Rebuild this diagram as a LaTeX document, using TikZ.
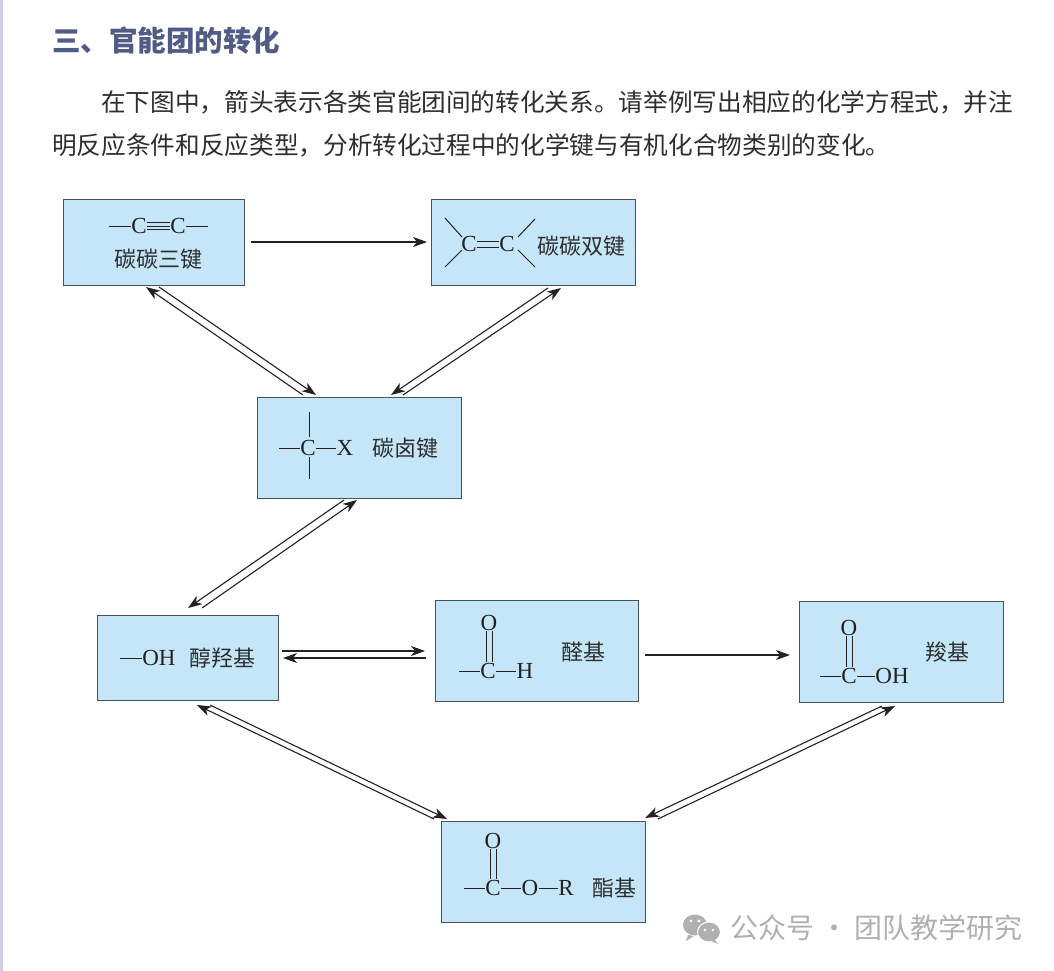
\documentclass[tikz,border=0pt]{standalone}
\usepackage{fontspec}
\setmainfont{Liberation Serif}
\newfontfamily\cjk{Noto Sans CJK SC}
\usetikzlibrary{arrows.meta}
\definecolor{boxfill}{HTML}{C5E6F8}
\definecolor{boxedge}{HTML}{46525C}
\definecolor{titleblue}{HTML}{505C86}
\definecolor{bodytext}{HTML}{2E2E2E}
\definecolor{inkline}{HTML}{222222}
\definecolor{stripe}{HTML}{CFCFE8}
\definecolor{wmark}{HTML}{B0B0B0}
\tikzset{
  gbox/.style={draw=boxedge,fill=boxfill,line width=1pt,anchor=north west,inner sep=0pt,outer sep=0pt},
  atom/.style={inner sep=0.5pt,outer sep=0pt,text=inkline,font=\fontsize{23}{23}\selectfont},
  clabel/.style={inner sep=0pt,text=bodytext,font=\cjk\fontsize{22}{23}\selectfont},
  bond/.style={draw=inkline,line width=1pt},
  conv/.style={draw=inkline,line width=1.1pt,-{Stealth[length=14pt,width=10pt,inset=4pt]}},
  bodyline/.style={anchor=west,inner sep=0pt,text=bodytext,font=\cjk\fontsize{24.65}{25}\selectfont},
}
\begin{document}
\begin{tikzpicture}[x=1pt,y=-1pt]
\useasboundingbox (0,0) rectangle (1054,971);
\fill[white] (0,0) rectangle (1054,971);
\fill[stripe] (0,0) rectangle (3,971);

\node[anchor=west,inner sep=0pt,text=titleblue,font=\cjk\bfseries\fontsize{28.5}{30}\selectfont] (title) at (52,41) {三、官能团的转化};
\node[bodyline] (para1) at (101,102) {在下图中，箭头表示各类官能团间的转化关系。请举例写出相应的化学方程式，并注};
\node[bodyline] (para2) at (52,145) {明反应条件和反应类型，分析转化过程中的化学键与有机化合物类别的变化。};

% boxes
\node[gbox,minimum width=181pt,minimum height=86pt] (A) at (63,199) {};
\node[gbox,minimum width=204pt,minimum height=86pt] (B) at (431,199) {};
\node[gbox,minimum width=204pt,minimum height=101pt] (C) at (257,397) {};
\node[gbox,minimum width=181pt,minimum height=85pt] (D) at (97,615) {};
\node[gbox,minimum width=203pt,minimum height=101pt] (E) at (435,600) {};
\node[gbox,minimum width=204pt,minimum height=101pt] (F) at (799,601) {};
\node[gbox,minimum width=204pt,minimum height=101pt] (G) at (441,821) {};

% connectors
\draw[conv] ([xshift=7pt]A.east) -- ([xshift=-4pt]B.west);
\draw[conv] ([xshift=7pt,yshift=-4.5pt]E.east) -- ([xshift=-9pt,yshift=-3.5pt]F.west);

\draw[conv] ([xshift=46pt,yshift=2pt]C.north west) -- ([xshift=83pt,yshift=-2pt]A.south west);
\draw[conv] ([xshift=96pt,yshift=-2pt]A.south west) -- ([xshift=59pt,yshift=2pt]C.north west);

\draw[conv] ([xshift=117pt,yshift=-3pt]B.south west) -- ([xshift=134pt,yshift=2pt]C.north west);
\draw[conv] ([xshift=146pt,yshift=2pt]C.north west) -- ([xshift=130pt,yshift=-3pt]B.south west);

\draw[conv] ([xshift=87pt,yshift=-2pt]C.south west) -- ([xshift=91pt,yshift=7pt]D.north west);
\draw[conv] ([xshift=105pt,yshift=7pt]D.north west) -- ([xshift=100pt,yshift=-2pt]C.south west);

\draw[conv] ([xshift=4pt,yshift=6.5pt]D.east) -- ([xshift=-10pt,yshift=-0.5pt]E.west);
\draw[conv] ([xshift=-9pt,yshift=-7.5pt]E.west) -- ([xshift=5pt,yshift=-0.5pt]D.east);

\draw[conv] ([xshift=-7pt,yshift=2pt]G.north west) -- ([xshift=100pt,yshift=-5pt]D.south west);
\draw[conv] ([xshift=113pt,yshift=-5pt]D.south west) -- ([xshift=6pt,yshift=2pt]G.north west);

\draw[conv] ([xshift=83pt,yshift=-4pt]F.south west) -- ([xshift=204pt,yshift=3pt]G.north west);
\draw[conv] ([xshift=217pt,yshift=2pt]G.north west) -- ([xshift=96pt,yshift=-4pt]F.south west);

% A: triple bond
\node[atom] (a1) at (139,226) {C};
\node[atom] (a2) at (178,226) {C};
\draw[bond] ([xshift=-22pt]a1.west) -- (a1.west);
\draw[bond] (a2.east) -- ([xshift=22pt]a2.east);
\foreach \s in {-3.2,0,3.2} \draw[bond] ([yshift=\s pt]a1.east) -- ([yshift=\s pt]a2.west);
\node[clabel] (la) at (158,259) {碳碳三键};

% B: double bond
\node[atom] (b1) at (469,244) {C};
\node[atom] (b2) at (507,244) {C};
\foreach \s in {-3,3} \draw[bond] ([yshift=\s pt]b1.east) -- ([yshift=\s pt]b2.west);
\draw[bond] ([xshift=-24pt,yshift=26pt]b1.center) -- ([xshift=-7pt,yshift=7pt]b1.center);
\draw[bond] ([xshift=-24pt,yshift=-23pt]b1.center) -- ([xshift=-7pt,yshift=-6pt]b1.center);
\draw[bond] ([xshift=28pt,yshift=25pt]b2.center) -- ([xshift=11pt,yshift=7pt]b2.center);
\draw[bond] ([xshift=28pt,yshift=-23pt]b2.center) -- ([xshift=11pt,yshift=-6pt]b2.center);
\node[clabel] (lb) at (581,246) {碳碳双键};

% C: carbon-halogen
\node[atom] (c1) at (308,448) {C};
\node[atom] (c2) at (345,448) {X};
\draw[bond] ([xshift=-21pt]c1.west) -- (c1.west);
\draw[bond] (c1.east) -- (c2.west);
\draw[bond] ([xshift=1pt,yshift=36pt]c1.center) -- ([xshift=1pt,yshift=11pt]c1.center);
\draw[bond] ([xshift=1pt,yshift=-9pt]c1.center) -- ([xshift=1pt,yshift=-31pt]c1.center);
\node[clabel] (lc) at (405,448) {碳卤键};

% D: hydroxyl
\node[atom] (d1) at (159,658) {OH};
\draw[bond] ([xshift=-22pt]d1.west) -- (d1.west);
\node[clabel] (ld) at (222,658) {醇羟基};

% E: aldehyde
\node[atom] (e1) at (489,623) {O};
\node[atom] (e2) at (488,671) {C};
\node[atom] (e3) at (525,671) {H};
\foreach \s in {-3,3} \draw[bond] ([xshift=\s pt]e1.south) -- ([xshift=\s pt,yshift=1pt]e1.south |- e2.north);
\draw[bond] ([xshift=-21pt]e2.west) -- (e2.west);
\draw[bond] (e2.east) -- (e3.west);
\node[clabel] (le) at (583,652) {醛基};

% F: carboxyl
\node[atom] (f1) at (849,628) {O};
\node[atom] (f2) at (849,676) {C};
\node[atom] (f3) at (892,676) {OH};
\foreach \s in {-3,3} \draw[bond] ([xshift=\s pt]f1.south) -- ([xshift=\s pt,yshift=1pt]f1.south |- f2.north);
\draw[bond] ([xshift=-21pt]f2.west) -- (f2.west);
\draw[bond] (f2.east) -- (f3.west);
\node[clabel] (lf) at (947,652) {羧基};

% G: ester
\node[atom] (g1) at (493,841) {O};
\node[atom] (g2) at (493,888) {C};
\node[atom] (g3) at (530,888) {O};
\node[atom] (g4) at (566,888) {R};
\foreach \s in {-3,3} \draw[bond] ([xshift=\s pt]g1.south) -- ([xshift=\s pt,yshift=1pt]g1.south |- g2.north);
\draw[bond] ([xshift=-21pt]g2.west) -- (g2.west);
\draw[bond] (g2.east) -- (g3.west);
\draw[bond] (g3.east) -- (g4.west);
\node[clabel] (lg) at (614,888) {酯基};

% watermark
\fill[wmark] (695,925) ellipse (12pt and 10.5pt);
\fill[wmark] (688,935) -- (686,941) -- (694,936) -- cycle;
\fill[wmark,draw=white,line width=1pt] (709,932) ellipse (11.5pt and 10pt);
\fill[wmark] (715,940) -- (718,944) -- (711,941) -- cycle;
\fill[white] (691,921) circle (1.6pt) (699,921) circle (1.6pt) (705,930) circle (1.4pt) (713,930) circle (1.4pt);
\node[anchor=west,inner sep=0pt,text=wmark,font=\cjk\fontsize{28}{29}\selectfont] (wm) at (730,928) {公众号 · 团队教学研究};
\end{tikzpicture}
\end{document}
